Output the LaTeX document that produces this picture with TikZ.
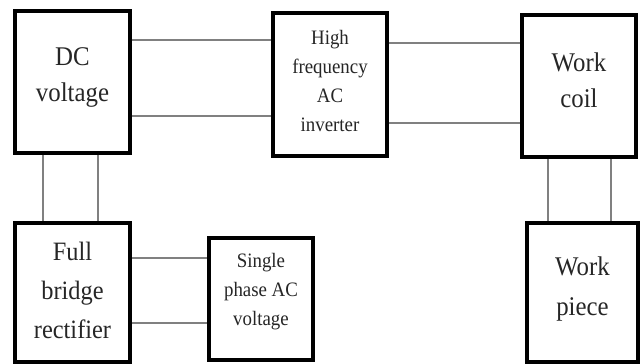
\documentclass[tikz,border=0pt]{standalone}
\usepackage{fontspec}
\setmainfont[FakeStretch=0.92]{Liberation Serif}
\begin{document}
\begin{tikzpicture}[x=1pt,y=-1pt,
  blk/.style={draw=black, line width=3.6pt, fill=white, inner sep=0pt},
  lbl/.style={align=center, text=black!85, inner sep=0pt},
  big/.style={font=\fontsize{27}{36}\selectfont},
  small/.style={font=\fontsize{20.5}{29}\selectfont},
  wire/.style={draw=black!50, line width=1.5pt}]
\useasboundingbox (0,0) rectangle (641,364);
\fill[white] (0,0) rectangle (641,364);
% connector levels
\coordinate (ya) at (0,40);
\coordinate (yb) at (0,116);
\coordinate (yc) at (0,43);
\coordinate (yd) at (0,123);
\coordinate (ye) at (0,258);
\coordinate (yf) at (0,323);
\coordinate (xa) at (43,0);
\coordinate (xb) at (98,0);
\coordinate (xc) at (548,0);
\coordinate (xd) at (611,0);
% boxes
\node[blk, minimum width=115pt, minimum height=142pt] (dc) at (72.5,82) {};
\node[lbl, big] (tdc) at (72.5,77) {DC\\voltage};
\node[blk, minimum width=114pt, minimum height=143pt] (inv) at (330,84.5) {};
\node[lbl, small] (tinv) at (330,81) {High\\frequency\\AC\\inverter};
\node[blk, minimum width=114pt, minimum height=142pt] (coil) at (579,86) {};
\node[lbl, big] (tcoil) at (579,80) {Work\\coil};
\node[blk, minimum width=115pt, minimum height=139pt] (fb) at (72.5,292.5) {};
\node[lbl, font=\fontsize{26.5}{39}\selectfont] (tfb) at (72.5,290) {Full\\bridge\\rectifier};
\node[blk, minimum width=104pt, minimum height=122pt] (sp) at (261,299) {};
\node[lbl, small] (tsp) at (261,292) {Single\\phase AC\\voltage};
\node[blk, minimum width=111pt, minimum height=139pt] (wp) at (582.5,292.5) {};
\node[lbl, font=\fontsize{27}{40}\selectfont] (twp) at (582.5,289) {Work\\piece};
% connectors
\draw[wire] (dc.east |- ya) -- (inv.west |- ya);
\draw[wire] (dc.east |- yb) -- (inv.west |- yb);
\draw[wire] (inv.east |- yc) -- (coil.west |- yc);
\draw[wire] (inv.east |- yd) -- (coil.west |- yd);
\draw[wire] (xa |- dc.south) -- (xa |- fb.north);
\draw[wire] (xb |- dc.south) -- (xb |- fb.north);
\draw[wire] (xc |- coil.south) -- (xc |- wp.north);
\draw[wire] (xd |- coil.south) -- (xd |- wp.north);
\draw[wire] (fb.east |- ye) -- (sp.west |- ye);
\draw[wire] (fb.east |- yf) -- (sp.west |- yf);
\end{tikzpicture}
\end{document}
